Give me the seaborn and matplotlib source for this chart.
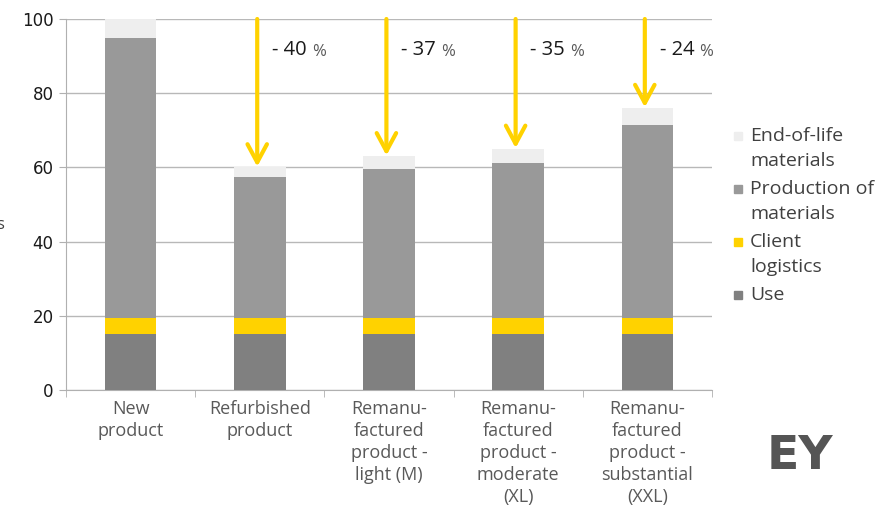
import pandas as pd
import matplotlib
matplotlib.use("Agg")
import matplotlib.pyplot as plt
import seaborn as sns

# data
categories = ["New\nproduct", "Refurbished\nproduct", "Remanu-\nfactured\nproduct -\nlight (M)",
              "Remanu-\nfactured\nproduct -\nmoderate\n(XL)", "Remanu-\nfactured\nproduct -\nsubstantial\n(XXL)"]
use = [15, 15, 15, 15, 15]
logistics = [4.5, 4.5, 4.5, 4.5, 4.5]
production = [75.5, 38, 40.2, 41.7, 52]
end_of_life = [5, 2.5, 3.3, 3.8, 4.5]
reductions = ["", "- 40", "- 37", "- 35", "- 24"]

series_names = ["End-of-life\nmaterials", "Production of\nmaterials", "Client\nlogistics", "Use"]
colors = ["#eeeeee", "#999999", "#ffd200", "#808080"]

df = pd.DataFrame({"cat": categories, "use": use, "logistics": logistics,
                   "production": production, "eol": end_of_life})
df["c_use"] = df["use"]
df["c_log"] = df["c_use"] + df["logistics"]
df["c_prod"] = df["c_log"] + df["production"]
df["c_eol"] = df["c_prod"] + df["eol"]

sns.set_style("white")
plt.rcParams["font.family"] = ["Open Sans", "DejaVu Sans"]

W, H = 894, 505
fig = plt.figure(figsize=(W / 100, H / 100), dpi=100)
ax = fig.add_axes([66 / W, 115 / H, 646 / W, 371 / H])

# --- stacked bars, drawn from the tallest cumulative layer down ---
for col, color in zip(["c_eol", "c_prod", "c_log", "c_use"], colors):
    sns.barplot(data=df, x="cat", y=col, color=color, width=0.4, ax=ax,
                saturation=1, edgecolor="none", zorder=3)

ax.set_xlim(-0.5, 4.5)
ax.set_ylim(0, 100)
ax.set_yticks(range(0, 101, 20))
ax.set_xlabel("")
ax.set_ylabel("")
ax.yaxis.grid(True, color="#b8b8b8", lw=1, zorder=0)
ax.set_axisbelow(True)
for s in ["top", "right"]:
    ax.spines[s].set_visible(False)
for s in ["left", "bottom"]:
    ax.spines[s].set_color("#b0b0b0")
ax.tick_params(axis="y", left=True, length=5, color="#b0b0b0", labelsize=12,
               labelcolor="#1a1a1a", pad=4)
ax.tick_params(axis="x", bottom=False, labelsize=13, labelcolor="#595959", pad=4)
ax.set_xticks([i - 0.5 for i in range(6)], minor=True)
ax.tick_params(axis="x", which="minor", bottom=True, length=5, color="#b0b0b0")
for lab in ax.get_yticklabels():
    lab.set_family("DejaVu Sans")
for lab in ax.get_xticklabels():
    lab.set_linespacing(1.28)
    lab.set_va("top")

# --- reduction arrows and labels ---
for i, r in enumerate(reductions):
    if not r:
        continue
    top = df["c_eol"][i]
    ax.annotate("", xy=(i - 0.02, top + 0.2), xytext=(i - 0.02, 100),
                arrowprops=dict(arrowstyle="->,head_length=0.65,head_width=0.35",
                                color="#ffd200", lw=3, mutation_scale=20,
                                shrinkA=0, shrinkB=0), zorder=5)
    t = ax.text(i + 0.095, 90.2, r + " ", fontsize=14.5, color="#1a1a1a",
                va="baseline", ha="left", zorder=6)
    ax.annotate("%", xy=(1, 0), xycoords=t, fontsize=12, color="#595959",
                va="bottom", ha="left", zorder=6)

# --- legend, drawn by hand so the square sits on the first line ---
line_y = 136
for name, color in zip(series_names, colors):
    fig.patches.append(plt.Rectangle((734 / W, 1 - (line_y + 4) / H), 8 / W, 8 / H,
                                     transform=fig.transFigure, color=color))
    for k, part in enumerate(name.split("\n")):
        fig.text(750 / W, 1 - (line_y + k * 25) / H, part, fontsize=14,
                 color="#404040", va="center", ha="left")
        last = line_y + k * 25
    line_y = last + 28

# cut-off axis label at the left edge and logo
fig.text(-0.004, 1 - 225 / H, "s", fontsize=12, color="#404040", va="center")
fig.text(767 / W, 1 - 469 / H, "EY", fontsize=34, fontweight="heavy",
         family="DejaVu Sans", color="#555555", va="baseline")

fig.savefig("out.png", dpi=100)
plt.close(fig)
